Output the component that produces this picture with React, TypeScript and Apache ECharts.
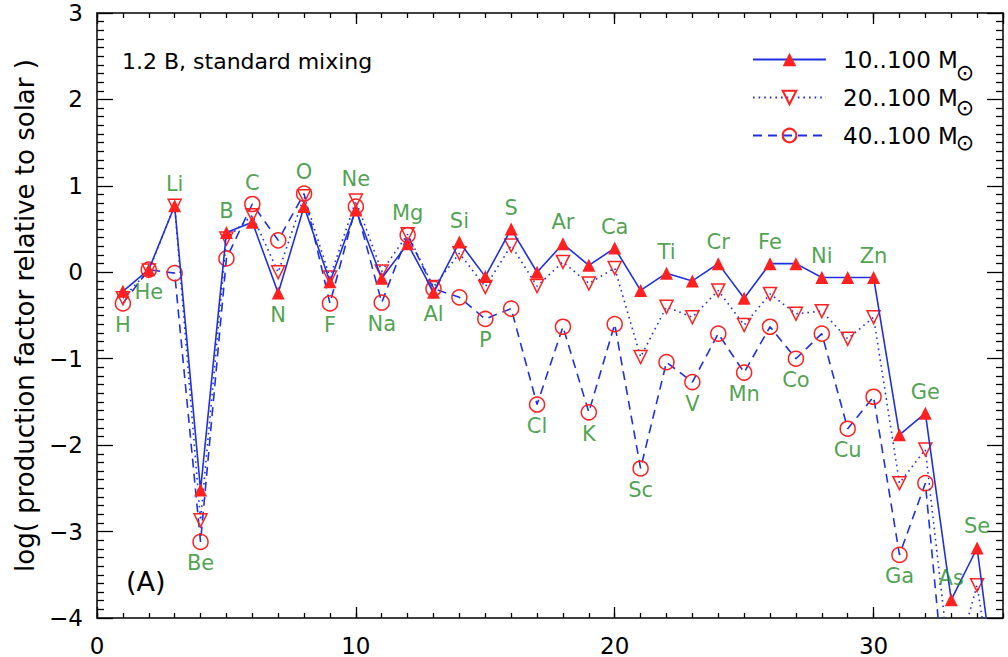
import { useEffect, useRef } from 'react';
import * as echarts from 'echarts';

// Elements H .. Br, plotted against atomic number Z = index + 1
const elements = [
  'H', 'He', 'Li', 'Be', 'B', 'C', 'N', 'O', 'F', 'Ne',
  'Na', 'Mg', 'Al', 'Si', 'P', 'S', 'Cl', 'Ar', 'K', 'Ca',
  'Sc', 'Ti', 'V', 'Cr', 'Mn', 'Fe', 'Co', 'Ni', 'Cu', 'Zn',
  'Ga', 'Ge', 'As', 'Se', 'Br',
];

// log production factor relative to solar, per stellar mass range
const range10to100 = [
  -0.22, 0.03, 0.77, -2.52, 0.46, 0.58, -0.24, 0.76, -0.11, 0.72,
  -0.07, 0.33, -0.23, 0.35, -0.05, 0.5, 0.0, 0.33, 0.08, 0.28,
  -0.21, -0.01, -0.1, 0.1, -0.3, 0.1, 0.1, -0.06, -0.06, -0.06,
  -1.88, -1.63, -3.79, -3.19, -5.5,
];
const range20to100 = [
  -0.3, 0.02, 0.77, -2.87, 0.39, 0.66, 0.0, 0.88, -0.06, 0.83,
  0.01, 0.44, -0.17, 0.22, -0.17, 0.31, -0.16, 0.12, -0.13, 0.05,
  -0.98, -0.4, -0.52, -0.21, -0.61, -0.25, -0.48, -0.45, -0.77, -0.52,
  -2.44, -2.05, -4.7, -3.62, -5.6,
];
const range40to100 = [
  -0.36, 0.03, -0.01, -3.12, 0.16, 0.79, 0.37, 0.91, -0.36, 0.76,
  -0.35, 0.43, -0.19, -0.29, -0.54, -0.42, -1.53, -0.63, -1.62, -0.6,
  -2.27, -1.04, -1.27, -0.71, -1.16, -0.63, -1.0, -0.71, -1.81, -1.44,
  -3.27, -2.44, -5.6, -5.2, -6.0,
];

// Where each element symbol sits: 't' above its highest point, 'b' below its lowest
const labelSide = [
  'b', 'b', 't', 'b', 't', 't', 'b', 't', 'b', 't',
  'b', 't', 'b', 't', 'b', 't', 'b', 't', 'b', 't',
  'b', 't', 'b', 't', 'b', 't', 'b', 't', 'b', 't',
  'b', 't', 't', 't', '',
];

const seriesNames = ['10..100 M', '20..100 M', '40..100 M'];

const Y_MIN = -4;
const Y_MAX = 3;
const X_MIN = 0;
const X_MAX = 35;

const BLUE = '#1f30e0';
const RED = '#ff2020';
const GREEN = '#238a23';
const FONT = 'DejaVu Sans';

// Legend block geometry (rows of line sample + text, solar subscript under each)
const LEGEND_LEFT = 752;
const LEGEND_FIRST_ROW = 58;
const LEGEND_ROW_STEP = 35;
const LEGEND_TEXT_HEIGHT = 20;
const SUN_X = 965;
const SUN_DROP = 14;

function App() {
  const ref = useRef<HTMLDivElement>(null);

  useEffect(() => {
    if (!ref.current) return;
    const chart = echarts.init(ref.current, undefined, { renderer: 'svg' });

    const toPoints = (vals: number[]) => vals.map((v, i) => [i + 1, v]);

    const labelData = elements
      .map((el, i) => {
        const side = labelSide[i];
        if (!side) return null;
        const visible = [range10to100[i], range20to100[i], range40to100[i]].filter(
          (v) => v >= Y_MIN && v <= Y_MAX,
        );
        const y = side === 't' ? Math.max(...visible) : Math.min(...visible);
        return {
          name: el,
          value: [i + 1, y],
          label: { position: side === 't' ? 'top' : 'bottom' },
        };
      })
      .filter(Boolean);

    const axisLineStyle = { color: '#000', width: 1.5 };
    const tickStyle = { color: '#000', width: 1.3 };
    const minus = (v: number) => (v < 0 ? '\u2212' + Math.abs(v) : String(v));

    const openMarker = { color: 'rgba(0,0,0,0)', borderColor: RED, borderWidth: 1.5 };

    // solar-mass subscript after each legend entry
    const sunMarks = seriesNames.map((_, i) => ({
      type: 'text',
      x: SUN_X,
      y: LEGEND_FIRST_ROW + i * LEGEND_ROW_STEP + SUN_DROP,
      silent: true,
      style: {
        text: '\u2299',
        fontSize: 22,
        fontFamily: FONT,
        fill: '#000',
        align: 'center',
        verticalAlign: 'middle',
      },
    }));

    chart.setOption({
      animation: false,
      backgroundColor: '#fff',
      textStyle: { fontFamily: FONT },
      title: [
        {
          text: '1.2 B, standard mixing',
          left: 117,
          top: 45,
          textStyle: { fontSize: 22, fontWeight: 'normal', color: '#000', fontFamily: FONT },
        },
        {
          text: '(A)',
          left: 121,
          top: 563,
          textStyle: { fontSize: 27, fontWeight: 'normal', color: '#000', fontFamily: FONT },
        },
      ],
      legend: {
        orient: 'vertical',
        left: LEGEND_LEFT - 5,
        top: LEGEND_FIRST_ROW - LEGEND_TEXT_HEIGHT / 2 - 5,
        itemWidth: 73,
        itemHeight: 17,
        itemGap: LEGEND_ROW_STEP - LEGEND_TEXT_HEIGHT,
        selectedMode: false,
        data: seriesNames,
        textStyle: {
          fontSize: 23,
          lineHeight: LEGEND_TEXT_HEIGHT,
          color: '#000',
          fontFamily: FONT,
          padding: [0, 0, 0, 12],
        },
      },
      graphic: sunMarks,
      grid: { left: 97, right: 5, top: 13, bottom: 39 },
      xAxis: [
        {
          type: 'value',
          position: 'bottom',
          min: X_MIN,
          max: X_MAX,
          interval: 10,
          axisLine: { onZero: false, lineStyle: axisLineStyle },
          axisTick: { inside: true, length: 11, lineStyle: tickStyle },
          axisLabel: { fontSize: 23, color: '#000', margin: 16, showMaxLabel: false, fontFamily: FONT },
          splitLine: { show: false },
        },
        {
          type: 'value',
          position: 'bottom',
          min: X_MIN,
          max: X_MAX,
          interval: 1,
          axisLine: { show: false, onZero: false },
          axisTick: { inside: true, length: 5, lineStyle: tickStyle },
          axisLabel: { show: false },
          splitLine: { show: false },
        },
        {
          type: 'value',
          position: 'top',
          min: X_MIN,
          max: X_MAX,
          interval: 10,
          axisLine: { onZero: false, lineStyle: axisLineStyle },
          axisTick: { inside: true, length: 11, lineStyle: tickStyle },
          axisLabel: { show: false },
          splitLine: { show: false },
        },
        {
          type: 'value',
          position: 'top',
          min: X_MIN,
          max: X_MAX,
          interval: 1,
          axisLine: { show: false, onZero: false },
          axisTick: { inside: true, length: 5, lineStyle: tickStyle },
          axisLabel: { show: false },
          splitLine: { show: false },
        },
      ],
      yAxis: [
        {
          type: 'value',
          position: 'left',
          min: Y_MIN,
          max: Y_MAX,
          interval: 1,
          axisLine: { show: true, onZero: false, lineStyle: axisLineStyle },
          axisTick: { inside: true, length: 16, lineStyle: tickStyle },
          minorTick: { show: true, splitNumber: 10, length: 7, lineStyle: tickStyle },
          axisLabel: { fontSize: 23, color: '#000', margin: 14, formatter: minus, fontFamily: FONT },
          splitLine: { show: false },
          name: 'log( production factor relative to solar )',
          nameLocation: 'middle',
          nameGap: 58,
          nameTextStyle: { fontSize: 26, color: '#000', fontFamily: FONT },
        },
        {
          type: 'value',
          position: 'right',
          min: Y_MIN,
          max: Y_MAX,
          interval: 1,
          axisLine: { show: true, onZero: false, lineStyle: axisLineStyle },
          axisTick: { inside: true, length: 16, lineStyle: tickStyle },
          minorTick: { show: true, splitNumber: 10, length: 7, lineStyle: tickStyle },
          axisLabel: { show: false },
          splitLine: { show: false },
        },
      ],
      series: [
        {
          name: seriesNames[2],
          type: 'line',
          data: toPoints(range40to100),
          symbol: 'circle',
          symbolSize: 15,
          lineStyle: { color: BLUE, width: 1.6, type: [9, 6] },
          itemStyle: openMarker,
          emphasis: { disabled: true },
          z: 3,
        },
        {
          name: seriesNames[1],
          type: 'line',
          data: toPoints(range20to100),
          symbol: 'triangle',
          symbolRotate: 180,
          symbolSize: 13,
          lineStyle: { color: BLUE, width: 1.6, type: [1.6, 4] },
          itemStyle: openMarker,
          emphasis: { disabled: true },
          z: 4,
        },
        {
          name: seriesNames[0],
          type: 'line',
          data: toPoints(range10to100),
          symbol: 'triangle',
          symbolSize: 13,
          lineStyle: { color: BLUE, width: 1.6, type: 'solid' },
          itemStyle: { color: RED },
          emphasis: { disabled: true },
          z: 5,
        },
        {
          name: 'element symbols',
          type: 'scatter',
          data: labelData,
          symbolSize: 14,
          itemStyle: { color: 'rgba(0,0,0,0)' },
          label: {
            show: true,
            formatter: '{b}',
            color: GREEN,
            fontSize: 21,
            distance: 4,
            fontFamily: FONT,
          },
          silent: true,
          z: 10,
        },
      ],
    });

    return () => chart.dispose();
  }, []);

  return (
    <div
      ref={ref}
      style={{ position: 'fixed', left: 0, top: 0, width: 1008, height: 657, background: '#fff' }}
    />
  );
}

export default App;
